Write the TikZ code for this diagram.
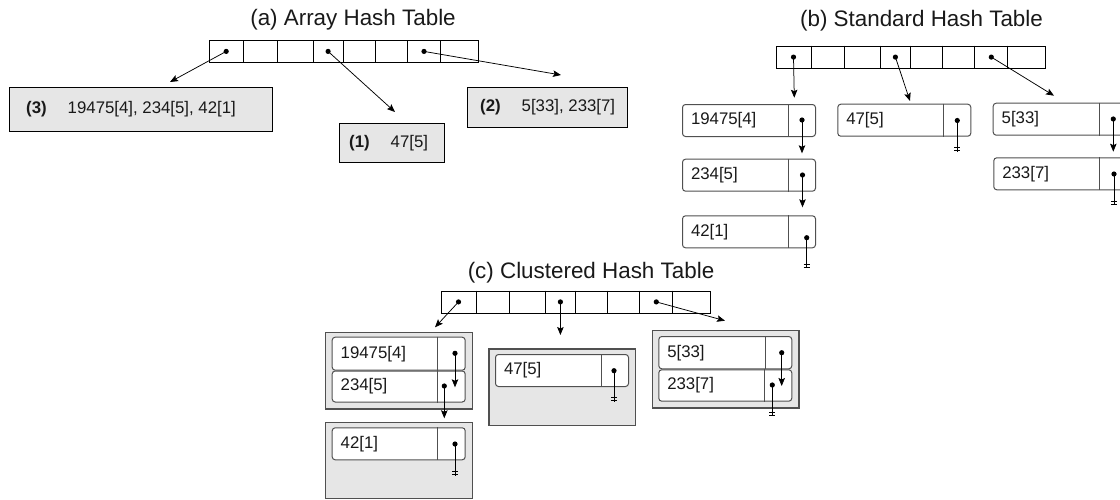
\documentclass[tikz,border=0pt]{standalone}
\usepackage{fontspec}
\setmainfont{Liberation Sans}
\usetikzlibrary{arrows.meta,calc}
\definecolor{boxgray}{HTML}{E6E6E6}
\definecolor{edgegray}{HTML}{505050}

\tikzset{
  every node/.style={font=\fontsize{16.8}{19}\selectfont, text=black!90},
  title/.style={font=\fontsize{22.4}{26}\selectfont, anchor=base, inner sep=0pt},
  cellrow/.style={draw=black, line width=0.8pt, minimum width=269.2pt, minimum height=22pt, inner sep=0pt, anchor=north west},
  abox/.style={draw=black, line width=0.9pt, fill=boxgray, inner sep=0pt, anchor=north west},
  btext/.style={anchor=west, inner sep=0pt},
  rec/.style={draw=edgegray, line width=1pt, rounded corners=3pt, fill=white, minimum height=32pt,
              text width=116pt, inner xsep=8.5pt, inner ysep=0pt, align=left, anchor=north west},
  cluster/.style={draw=edgegray, line width=1.4pt, fill=boxgray, inner sep=0pt, anchor=north west},
  divider/.style={draw=edgegray, line width=1pt},
  ptr/.style={line width=0.75pt, -{Stealth[length=8pt,width=6.5pt,inset=1.5pt]}},
  nilline/.style={line width=0.75pt},
}

% bucket array of eight cells; defines the pointer origins of cells 1, 4 and 7
\newcommand\hasharray[3]{%
  \node[cellrow] (#1) at (#2,#3) {};
  \foreach \d in {35,68.2,104.4,134.4,166.4,198.8,231.8}
    \draw[line width=0.8pt] ([xshift=\d pt]#1.north west) -- ([xshift=\d pt]#1.south west);
  \coordinate (#1-p1) at ([xshift=17.5pt]#1.west);
  \coordinate (#1-p4) at ([xshift=119.4pt]#1.west);
  \coordinate (#1-p7) at ([xshift=215.3pt]#1.west);
}
% vertical bar separating key and next-pointer field of a record
\newcommand\recdiv[2]{%
  \draw[divider] ([xshift=#2pt]#1.north west) -- ([xshift=#2pt]#1.south west);
}
\newcommand\ptrdot[1]{\fill (#1) circle (2.6pt);}
% null pointer: line ending in a double tick
\newcommand\nilptr[2]{%
  \draw[nilline] (#1) -- (#2);
  \draw[nilline] ([xshift=-3pt,yshift=4pt]#2) -- ([xshift=3pt,yshift=4pt]#2);
  \draw[nilline] ([xshift=-3pt,yshift=1pt]#2) -- ([xshift=3pt,yshift=1pt]#2);
  \ptrdot{#1}
}

\begin{document}
\begin{tikzpicture}[x=1pt,y=-1pt]
\useasboundingbox (0,0) rectangle (1120,499);
\clip (0,0) rectangle (1120,499);

% ---------------- (a) array hash table ----------------
\node[title] (ta) at (353,25) {(a) Array Hash Table};
\hasharray{aa}{208.7}{40}
\node[abox, minimum width=263.5pt, minimum height=44pt] (a3) at (8.5,87) {};
\node[btext] (a3t) at ([xshift=17.5pt]a3.west) {\textbf{(3)}\hspace{21pt}19475[4], 234[5], 42[1]};
\node[abox, minimum width=105pt, minimum height=39pt] (a1) at (339,123) {};
\node[btext] (a1t) at ([xshift=10pt]a1.west) {\textbf{(1)}\hspace{21pt}47[5]};
\node[abox, minimum width=160pt, minimum height=40pt] (a2) at (467,87) {};
\node[btext] (a2t) at ([xshift=13pt]a2.west) {\textbf{(2)}\hspace{21pt}5[33], 233[7]};
\coordinate (a3in) at (170,82);
\coordinate (a1in) at (395,112);
\coordinate (a2in) at (561,75);
\draw[ptr] (aa-p1) -- (a3in); \ptrdot{aa-p1}
\draw[ptr] (aa-p4) -- (a1in); \ptrdot{aa-p4}
\draw[ptr] (aa-p7) -- (a2in); \ptrdot{aa-p7}

% ---------------- (b) standard hash table ----------------
\node[title] (tb) at (921.5,26) {(b) Standard Hash Table};
\hasharray{ba}{776}{45.7}
\node[rec] (b1) at (682,104) {19475[4]};   \recdiv{b1}{106}
\node[rec] (b2) at (682,158.7) {234[5]};   \recdiv{b2}{106}
\node[rec] (b3) at (682,215.3) {42[1]};    \recdiv{b3}{106}
\node[rec] (b4) at (837.3,103.7) {47[5]};  \recdiv{b4}{106}
\node[rec] (b5) at (992.7,102.7) {5[33]};  \recdiv{b5}{106.6}
\node[rec] (b6) at (993.3,157.3) {233[7]}; \recdiv{b6}{106.6}
\coordinate (b1d) at (802,120);
\coordinate (b2d) at (802.5,175);
\coordinate (b3d) at (806.7,237.7);
\coordinate (b4d) at (957.3,120.5);
\coordinate (b5d) at (1113.3,119);
\coordinate (b6d) at (1114,174);
\coordinate (b1in) at (794.3,97.7);
\coordinate (b4in) at (910,101);
\coordinate (b5in) at (1054,95.7);
\coordinate (b2in) at (802,153.3);
\coordinate (b3in) at (802.5,207.3);
\coordinate (b6in) at (1113.3,151.7);
\draw[ptr] (ba-p1) -- (b1in); \ptrdot{ba-p1}
\draw[ptr] (ba-p4) -- (b4in); \ptrdot{ba-p4}
\draw[ptr] (ba-p7) -- (b5in); \ptrdot{ba-p7}
\draw[ptr] (b1d) -- (b2in); \ptrdot{b1d}
\draw[ptr] (b2d) -- (b3in); \ptrdot{b2d}
\draw[ptr] (b5d) -- (b6in); \ptrdot{b5d}
\coordinate (b3nil) at (806.7,268);
\coordinate (b4nil) at (957.3,151.7);
\coordinate (b6nil) at (1114,205);
\nilptr{b3d}{b3nil}
\nilptr{b4d}{b4nil}
\nilptr{b6d}{b6nil}

% ---------------- (c) clustered hash table ----------------
\node[title] (tc) at (591,278) {(c) Clustered Hash Table};
\hasharray{ca}{441}{290.5}
\node[cluster, minimum width=147pt, minimum height=76.6pt] (k1) at (324.7,331.7) {};
\node[cluster, minimum width=147pt, minimum height=76pt] (k2) at (324.7,421.7) {};
\node[cluster, minimum width=146.7pt, minimum height=76.7pt] (k3) at (488.3,348.3) {};
\node[cluster, minimum width=146.6pt, minimum height=77.3pt] (k4) at (651.7,330) {};
\node[rec, minimum height=33pt] (c1) at (331.7,336.7) {19475[4]}; \recdiv{c1}{106}
\node[rec, minimum height=31pt] (c2) at (331.7,370.5) {234[5]};   \recdiv{c2}{106}
\node[rec] (c3) at (331.7,427.3) {42[1]};                         \recdiv{c3}{106}
\node[rec] (c4) at (495,354) {47[5]};                             \recdiv{c4}{106}
\node[rec, minimum height=32.3pt] (c5) at (658.3,336) {5[33]};    \recdiv{c5}{106.7}
\node[rec, minimum height=31.4pt] (c6) at (658.3,369.3) {233[7]}; \recdiv{c6}{106}
\coordinate (c1d) at (455,353.3);
\coordinate (c2d) at (444.3,386);
\coordinate (c3d) at (455,444);
\coordinate (c4d) at (614,370.7);
\coordinate (c5d) at (781.7,352.7);
\coordinate (c6d) at (772.3,385);
\coordinate (k1in) at (435,327.3);
\coordinate (k3in) at (560.4,335);
\coordinate (k4in) at (725,320.7);
\coordinate (c2in) at (455,387.3);
\coordinate (k2in) at (444.3,418.3);
\coordinate (c6in) at (781.7,386);
\draw[ptr] (ca-p1) -- (k1in); \ptrdot{ca-p1}
\draw[ptr] (ca-p4) -- (k3in); \ptrdot{ca-p4}
\draw[ptr] (ca-p7) -- (k4in); \ptrdot{ca-p7}
\draw[ptr] (c1d) -- (c2in); \ptrdot{c1d}
\draw[ptr] (c2d) -- (k2in); \ptrdot{c2d}
\draw[ptr] (c5d) -- (c6in); \ptrdot{c5d}
\coordinate (c3nil) at (455,475.7);
\coordinate (c4nil) at (614,401.7);
\coordinate (c6nil) at (772.3,416);
\nilptr{c3d}{c3nil}
\nilptr{c4d}{c4nil}
\nilptr{c6d}{c6nil}
\end{tikzpicture}
\end{document}
